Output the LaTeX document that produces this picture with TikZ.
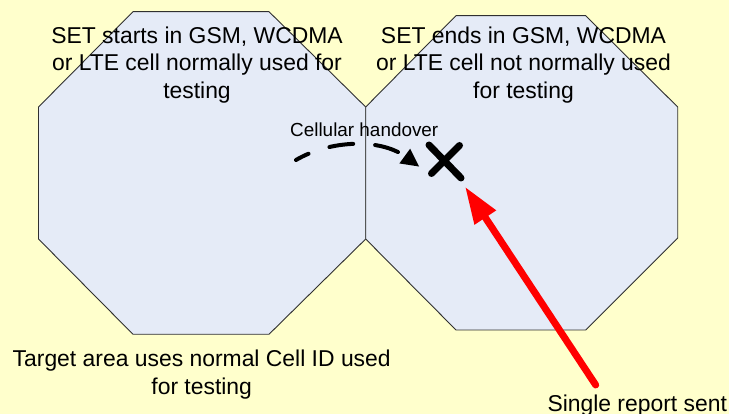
\documentclass[tikz,border=0pt]{standalone}
\usepackage{fontspec}
\setmainfont{Liberation Sans}
\usetikzlibrary{arrows.meta}
\definecolor{bgyellow}{HTML}{FFFFCC}
\definecolor{cellfill}{HTML}{E5EBF7}
\definecolor{cellline}{HTML}{303030}
\begin{document}
\begin{tikzpicture}[x=1pt,y=-1pt,
  cell/.style={fill=cellfill,draw=cellline,line width=0.9pt,line join=miter},
  bigtext/.style={font=\fontsize{22.9}{27.5}\selectfont,align=center,inner sep=0pt,text=black},
  smalltext/.style={font=\fontsize{18.9}{22}\selectfont,inner sep=0pt,text=black},
  handover/.style={line width=4pt,line cap=round,dash pattern=on 24pt off 22pt,dash phase=10pt,-{Triangle[length=18pt,width=17pt]}},
  crossmark/.style={line width=7pt,line cap=round},
  report/.style={red,line width=7pt,line cap=round,-{Triangle[length=37pt,width=24pt]}}]
\fill[bgyellow] (0,0) rectangle (729,414);
\useasboundingbox (0,0) rectangle (729,414);
% cells
\draw[cell] (133,11.7) -- (269,11.7) -- (365.7,107) -- (365.7,239) -- (269,334.3) -- (133,334.3) -- (38.5,239) -- (38.5,107) -- cycle;
\draw[cell] (456,15.7) -- (585.7,15.7) -- (677.7,107) -- (677.7,238) -- (585.7,330) -- (456,330) -- (365.7,239) -- (365.7,107) -- cycle;
% texts
\node[bigtext,anchor=north] (start) at (197,26.5) {SET starts in GSM, WCDMA\\or LTE cell normally used for\\testing};
\node[bigtext,anchor=north] (end) at (523.5,26.5) {SET ends in GSM, WCDMA\\or LTE cell not normally used\\for testing};
\node[bigtext,anchor=north] (target) at (201.7,350) {Target area uses normal Cell ID used\\for testing};
\node[bigtext,anchor=north west] (single) at (547.3,395) {Single report sent};
\node[smalltext,anchor=north west] (hlabel) at (290,122.7) {Cellular handover};
% handover arrow
\coordinate (hs) at (296,160);
\coordinate (he) at (419.3,166.7);
\draw[handover] (hs) .. controls (330,140) and (380,138) .. (he);
% cross
\coordinate (xm) at (445,161.5);
\draw[crossmark] ([shift={(-16,-16.5)}]xm) -- ([shift={(16,16.5)}]xm);
\draw[crossmark] ([shift={(14.5,-16)}]xm) -- ([shift={(-13.5,12)}]xm);
% report arrow
\coordinate (rs) at (595.7,385);
\coordinate (re) at (465,186.7);
\draw[report] (rs) -- (re);
\end{tikzpicture}
\end{document}
